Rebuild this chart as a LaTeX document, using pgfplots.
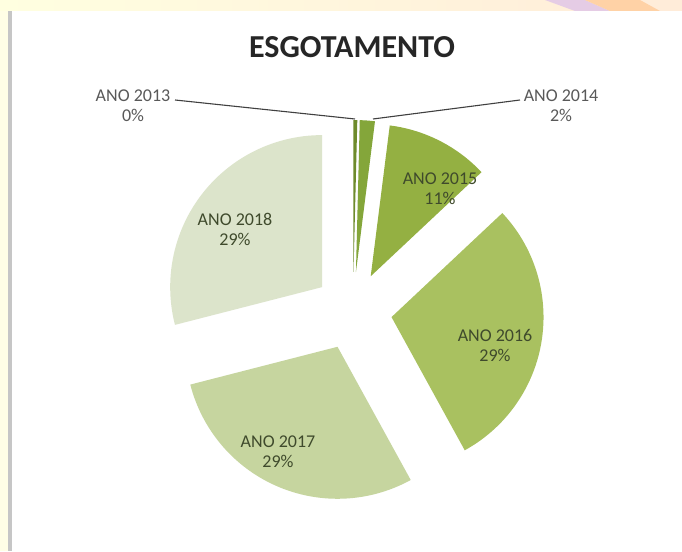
\documentclass[border=0pt]{standalone}
\usepackage{pgfplots}
\pgfplotsset{compat=1.18}
\usepackage{pgfplotstable}
\usepackage{fontspec}
\setmainfont{Carlito}

\definecolor{c0}{HTML}{6E8B2C}
\definecolor{c1}{HTML}{84A63A}
\definecolor{c2}{HTML}{94B042}
\definecolor{c3}{HTML}{A9C160}
\definecolor{c4}{HTML}{C6D59F}
\definecolor{c5}{HTML}{DCE4CB}
\definecolor{rotulo}{HTML}{3F4A2C}
\definecolor{fora}{HTML}{595959}

% valores em %
\pgfplotstableread{
ano valor
2013 0.4
2014 1.6
2015 11
2016 29
2017 29
2018 29
}\dados

% centro, afastamento e raio (pt)
\def\cx{353}\def\cy{240}\def\dd{39}\def\rr{152}

\begin{document}
\begin{tikzpicture}
% fundo do slide
\fill[white] (0,0) rectangle (682pt,551pt);
\shade[left color=yellow!12, right color=orange!15] (0,540pt) rectangle (682pt,551pt);
\fill[yellow!10] (0,0) rectangle (8pt,540pt);
\fill[gray!45] (8pt,0) rectangle (12pt,540pt);
\fill[violet!20] (545pt,551pt) -- (585pt,551pt) -- (610pt,540pt) -- (575pt,540pt) -- cycle;
\fill[orange!35] (585pt,551pt) -- (640pt,551pt) -- (660pt,540pt) -- (610pt,540pt) -- cycle;

% angulos acumulados
\gdef\cum{0}
\pgfplotsforeachungrouped \i in {0,...,5}{%
  \pgfplotstablegetelem{\i}{valor}\of\dados
  \pgfmathsetmacro\anga{90-3.6*\cum}
  \pgfmathsetmacro\cumnew{\cum+\pgfplotsretval}
  \xdef\cum{\cumnew}
  \pgfmathsetmacro\angb{90-3.6*\cum}
  \pgfmathsetmacro\amid{(\anga+\angb)/2}
  \pgfmathsetmacro\tx{\cx+\dd*cos(\amid)}
  \pgfmathsetmacro\ty{\cy+\dd*sin(\amid)}
  \expandafter\xdef\csname sa\i\endcsname{\anga}
  \expandafter\xdef\csname sb\i\endcsname{\angb}
  \expandafter\xdef\csname tx\i\endcsname{\tx}
  \expandafter\xdef\csname ty\i\endcsname{\ty}
}

\begin{axis}[
    at={(0,0)}, anchor=south west,
    scale only axis, width=682pt, height=551pt,
    xmin=0, xmax=682, ymin=0, ymax=551,
    hide axis, clip=false,
]
\pgfplotsinvokeforeach{0,...,5}{
  \addplot[fill=c#1, draw=none, samples=60, variable=\t,
      domain=\csname sb#1\endcsname:\csname sa#1\endcsname]
    ({\csname tx#1\endcsname+\rr*cos(\t)}, {\csname ty#1\endcsname+\rr*sin(\t)})
    -- (axis cs:\csname tx#1\endcsname,\csname ty#1\endcsname) -- cycle;
}

\draw[black!75, line width=1.1pt] (axis cs:175,451) -- (axis cs:355,432);
\draw[black!75, line width=1.1pt] (axis cs:373,432) -- (axis cs:520,451);

\node[font=\fontsize{32}{36}\selectfont\bfseries, text=black!85] at (axis cs:352,504) {ESGOTAMENTO};

\tikzset{lab/.style={align=center, font=\fontsize{18}{20}\selectfont, text=rotulo}}
\node[lab, text=fora] at (axis cs:133,445) {ANO 2013\\0\%};
\node[lab, text=fora] at (axis cs:561,445) {ANO 2014\\2\%};
\node[lab] at (axis cs:440,362) {ANO 2015\\11\%};
\node[lab] at (axis cs:495,205) {ANO 2016\\29\%};
\node[lab] at (axis cs:278,99) {ANO 2017\\29\%};
\node[lab] at (axis cs:235,322) {ANO 2018\\29\%};
\end{axis}
\end{tikzpicture}
\end{document}
